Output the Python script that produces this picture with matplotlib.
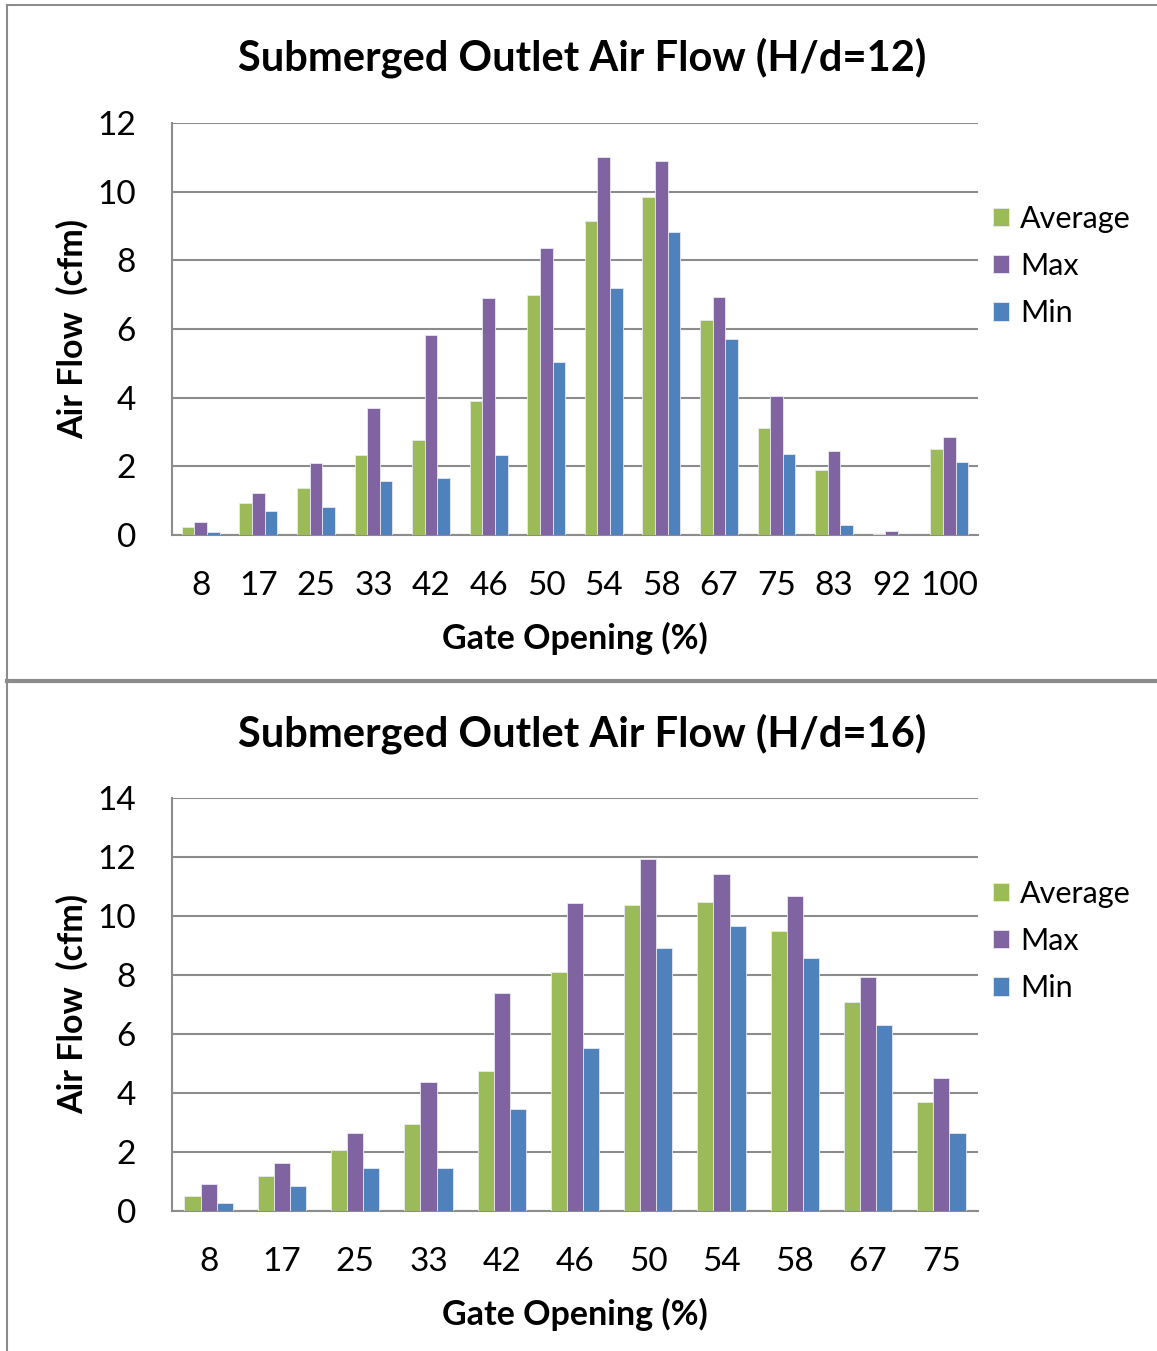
import matplotlib.pyplot as plt
import numpy as np
from matplotlib.lines import Line2D
from matplotlib.patches import Rectangle

# Data
gate_12 = ['8', '17', '25', '33', '42', '46', '50', '54', '58', '67', '75', '83', '92', '100']
avg_12 = [0.22, 0.92, 1.37, 2.33, 2.77, 3.89, 7.0, 9.16, 9.85, 6.27, 3.11, 1.90, 0.03, 2.50]
max_12 = [0.39, 1.21, 2.10, 3.69, 5.82, 6.90, 8.35, 11.02, 10.89, 6.93, 4.06, 2.46, 0.12, 2.86]
min_12 = [0.09, 0.71, 0.82, 1.57, 1.67, 2.34, 5.03, 7.20, 8.83, 5.72, 2.36, 0.29, 0.0, 2.14]

gate_16 = ['8', '17', '25', '33', '42', '46', '50', '54', '58', '67', '75']
avg_16 = [0.52, 1.20, 2.08, 2.96, 4.73, 8.11, 10.38, 10.49, 9.48, 7.08, 3.71]
max_16 = [0.93, 1.62, 2.64, 4.37, 7.39, 10.43, 11.92, 11.41, 10.69, 7.94, 4.51]
min_16 = [0.26, 0.85, 1.45, 1.47, 3.47, 5.51, 8.90, 9.65, 8.56, 6.29, 2.63]

colors = ['#9BBB59', '#8064A2', '#4F81BD']
labels = ['Average', 'Max', 'Min']

plt.rcParams['font.family'] = ['Lato', 'DejaVu Sans']

W, H = 1157, 1351
fig = plt.figure(figsize=(W / 100, H / 100), dpi=100)

# panel frames
fig.add_artist(Rectangle((7 / W, 1 - 681 / H), 1.2, (681 - 5) / H, transform=fig.transFigure,
                         fill=False, edgecolor='#8c8c8c', lw=1.5))
fig.add_artist(Rectangle((7 / W, -0.1), 1.2, 0.1 + 1 - 681 / H, transform=fig.transFigure,
                         fill=False, edgecolor='#8c8c8c', lw=1.5))
fig.add_artist(Line2D([7 / W, 1], [1 - 681 / H] * 2, transform=fig.transFigure,
                      color='#8c8c8c', lw=3))


def panel(top, bottom, cats, series, ymax, title_y, title):
    ax = fig.add_axes([172 / W, 1 - bottom / H, (978 - 172) / W, (bottom - top) / H])
    x = np.arange(len(cats))
    w = 0.22
    for i, (vals, c, lab) in enumerate(zip(series, colors, labels)):
        ax.bar(x + (i - 1) * w, vals, w, color=c, edgecolor='#e8e8f0', linewidth=0.6, label=lab, zorder=3)
    ax.set_xlim(-0.5, len(cats) - 0.5)
    ax.set_ylim(0, ymax)
    ax.set_yticks(np.arange(0, ymax + 1, 2))
    ax.set_xticks(x)
    ax.set_xticklabels(cats)
    ax.tick_params(axis='both', labelsize=24, length=0, colors='black')
    ax.tick_params(axis='x', pad=26)
    ax.tick_params(axis='y', pad=26)
    ax.yaxis.grid(True, color='#8c8c8c', lw=1.5, zorder=0)
    for s in ['top', 'right']:
        ax.spines[s].set_visible(False)
    for s in ['left', 'bottom']:
        ax.spines[s].set_color('#8c8c8c')
        ax.spines[s].set_linewidth(1.5)
    ax.set_xlabel('Gate Opening (%)', fontsize=24.5, fontweight='bold', labelpad=15)
    ax.set_ylabel('Air Flow  (cfm)', fontsize=24.5, fontweight='bold', labelpad=6)
    fig.text(582 / W, 1 - title_y / H, title, fontsize=30, fontweight='bold', ha='center', va='center')
    ax.legend(loc='center left', bbox_to_anchor=(1.018, (bottom - (top + 143)) / (bottom - top)),
              frameon=False, fontsize=22, handlelength=0.55, handleheight=0.55, handletextpad=0.35,
              labelspacing=0.63, borderaxespad=0, borderpad=0)
    return ax


panel(123, 535, gate_12, [avg_12, max_12, min_12], 12, 58, 'Submerged Outlet Air Flow (H/d=12)')
panel(798, 1211, gate_16, [avg_16, max_16, min_16], 14, 734, 'Submerged Outlet Air Flow (H/d=16)')

plt.savefig('out.png', dpi=100)
